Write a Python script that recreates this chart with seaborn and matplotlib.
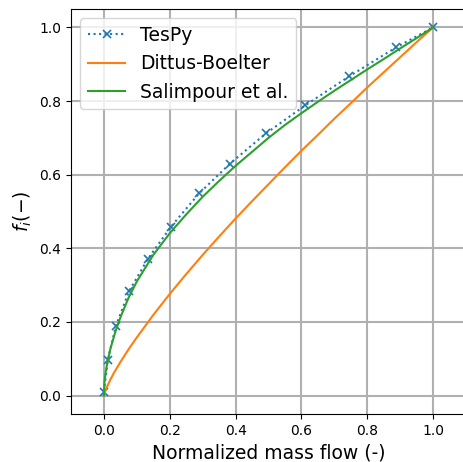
import matplotlib
matplotlib.use("Agg")
import matplotlib.pyplot as plt
import seaborn as sns
import pandas as pd

# TesPy simulation results
tespy_x = [0.0, 0.012, 0.036, 0.076, 0.134, 0.204, 0.289, 0.383, 0.492, 0.611, 0.745, 0.888, 1.0]
tespy_y = [0.011, 0.098, 0.188, 0.283, 0.372, 0.459, 0.549, 0.630, 0.712, 0.788, 0.867, 0.946, 1.0]

# Dittus-Boelter correlation
db_x = [0.0, 0.005, 0.01, 0.02, 0.03, 0.05, 0.075, 0.1, 0.15, 0.2, 0.25, 0.3, 0.35, 0.4, 0.45,
        0.5, 0.55, 0.6, 0.65, 0.7, 0.75, 0.8, 0.85, 0.9, 0.95, 1.0]
db_y = [0.0, 0.014, 0.025, 0.044, 0.061, 0.091, 0.126, 0.158, 0.219, 0.276, 0.33, 0.382, 0.432,
        0.481, 0.528, 0.574, 0.620, 0.665, 0.708, 0.752, 0.794, 0.837, 0.878, 0.919, 0.960, 1.0]

# Salimpour et al. correlation
sal_x = [0.0, 0.002, 0.005, 0.01, 0.02, 0.035, 0.05, 0.075, 0.1, 0.15, 0.2, 0.25, 0.3, 0.35, 0.4,
         0.45, 0.5, 0.55, 0.6, 0.65, 0.7, 0.75, 0.8, 0.85, 0.9, 0.95, 1.0]
sal_y = [0.0, 0.04, 0.062, 0.088, 0.128, 0.174, 0.212, 0.266, 0.31, 0.382, 0.441, 0.492, 0.54,
         0.583, 0.624, 0.662, 0.7, 0.735, 0.767, 0.798, 0.828, 0.857, 0.886, 0.914, 0.943, 0.971, 1.0]

tespy = pd.DataFrame({"x": tespy_x, "y": tespy_y})
db = pd.DataFrame({"x": db_x, "y": db_y})
sal = pd.DataFrame({"x": sal_x, "y": sal_y})

fig = plt.figure(figsize=(4.63, 4.62), dpi=100)
ax = fig.add_axes([71 / 463, 48 / 462, 395 / 463, 405 / 462])

sns.lineplot(data=tespy, x="x", y="y", ax=ax, sort=False, color="C0", linestyle=":",
             linewidth=1.5, marker="x", markersize=6, markeredgewidth=1.2,
             markeredgecolor="C0", label="TesPy")
sns.lineplot(data=db, x="x", y="y", ax=ax, sort=False, color="C1", linewidth=1.5,
             label="Dittus-Boelter")
sns.lineplot(data=sal, x="x", y="y", ax=ax, sort=False, color="C2", linewidth=1.5,
             label="Salimpour et al.")

ax.set_xlim(-0.1, 1.1)
ax.set_ylim(-0.05, 1.05)
ax.set_xticks([0.0, 0.2, 0.4, 0.6, 0.8, 1.0])
ax.set_yticks([0.0, 0.2, 0.4, 0.6, 0.8, 1.0])
ax.grid(True, color="#b0b0b0", linewidth=1.5)
ax.set_axisbelow(True)
ax.tick_params(labelsize=10)
ax.set_xlabel("Normalized mass flow (-)", fontsize=13.5)
ax.set_ylabel("$f_i(-)$", fontsize=13.5)
ax.legend(loc="upper left", fontsize=13.5)

fig.savefig("out.png", dpi=100)
